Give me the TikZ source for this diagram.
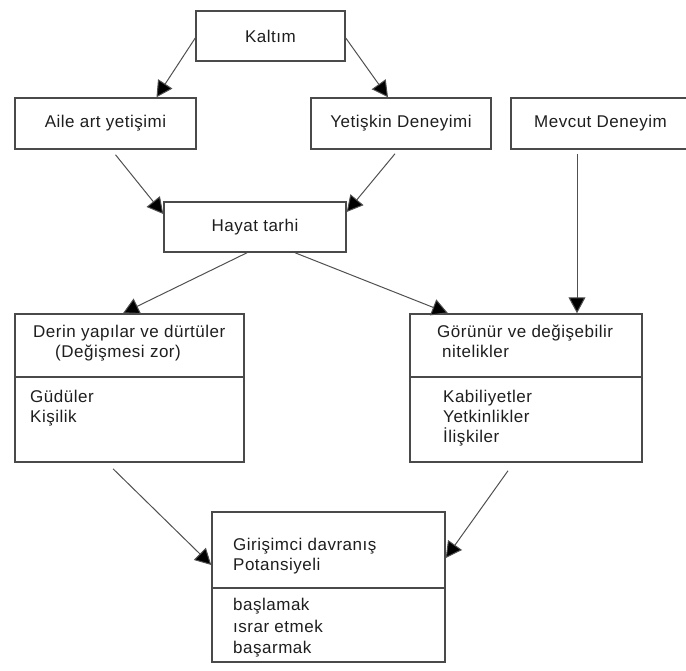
\documentclass[tikz,border=0pt]{standalone}
\usepackage{fontspec}
\setmainfont{Liberation Sans}[LetterSpace=3]
\usetikzlibrary{arrows.meta}

\definecolor{framegray}{HTML}{4A4A4A}
\definecolor{linkgray}{HTML}{505050}
\definecolor{inkgray}{HTML}{1E1E1E}

\tikzset{
  box/.style={draw=framegray, line width=1.5pt, inner sep=0pt, text=inkgray,
              font=\fontsize{17}{21}\selectfont},
  label/.style={anchor=base west, inner sep=0pt, text=inkgray,
                font=\fontsize{17}{21}\selectfont},
  divider/.style={draw=framegray, line width=1.5pt},
  link/.style={draw=linkgray, line width=1pt,
               -{Triangle[length=16pt,width=17pt,fill=black]}}
}

\begin{document}
\begin{tikzpicture}[x=1pt,y=-1pt]
  \useasboundingbox (0,0) rectangle (686,670);

  % single-line boxes
  \node[box, minimum width=149pt, minimum height=50pt] (kaltim)   at (270.5,36)  {Kaltım};
  \node[box, minimum width=181pt, minimum height=51pt] (aile)     at (105.5,123.5) {Aile art yetişimi};
  \node[box, minimum width=180pt, minimum height=51pt] (yetiskin) at (401,123.5) {Yetişkin Deneyimi};
  \node[box, minimum width=179pt, minimum height=51pt] (mevcut)   at (600.5,123.5) {Mevcut Deneyim};
  \node[box, minimum width=182pt, minimum height=50pt] (hayat)    at (255,227)   {Hayat tarhi};

  % two-part boxes
  \node[box, minimum width=229pt, minimum height=148pt] (derin)     at (129.5,388) {};
  \node[box, minimum width=232pt, minimum height=148pt] (gorunur)   at (526,388)   {};
  \node[box, minimum width=233pt, minimum height=150pt] (girisimci) at (328.5,587) {};

  \draw[divider] (derin.west |- 0,377) -- (derin.east |- 0,377);
  \draw[divider] (gorunur.west |- 0,377) -- (gorunur.east |- 0,377);
  \draw[divider] (girisimci.west |- 0,588) -- (girisimci.east |- 0,588);

  % texts of the two-part boxes
  \node[label] (derinA) at (33,337) {Derin yapılar ve dürtüler};
  \node[label] (derinB) at (55,357) {(Değişmesi zor)};
  \node[label] (derinC) at (30,402) {Güdüler};
  \node[label] (derinD) at (30,422) {Kişilik};

  \node[label] (gorA) at (437,337) {Görünür ve değişebilir};
  \node[label] (gorB) at (442,357) {nitelikler};
  \node[label] (gorC) at (443,402) {Kabiliyetler};
  \node[label] (gorD) at (443,422) {Yetkinlikler};
  \node[label] (gorE) at (443,442) {İlişkiler};

  \node[label] (girA) at (233,550) {Girişimci davranış};
  \node[label] (girB) at (233,570) {Potansiyeli};
  \node[label] (girC) at (233,610) {başlamak};
  \node[label] (girD) at (233,632) {ısrar etmek};
  \node[label] (girE) at (233,653) {başarmak};

  % connectors
  \draw[link] ([yshift=-2pt]kaltim.west) -- ([xshift=51pt]aile.north);
  \draw[link] ([yshift=-2pt]kaltim.east) -- ([xshift=-13pt]yetiskin.north);
  \draw[link] ([xshift=10pt,yshift=-5pt]aile.south) -- ([yshift=13pt]hayat.west);
  \draw[link] ([xshift=-6pt,yshift=-4pt]yetiskin.south) -- ([yshift=15pt]hayat.east);
  \draw[link] ([xshift=-23.5pt,yshift=-4pt]mevcut.south)
              -- ([xshift=-23.5pt]mevcut.south |- gorunur.north);
  \draw[link] ([xshift=-8pt]hayat.south) -- ([xshift=-6.5pt]derin.north);
  \draw[link] ([xshift=40pt]hayat.south) -- ([xshift=-78pt]gorunur.north);
  \draw[link] ([xshift=-16.5pt,yshift=-6pt]derin.south) -- ([yshift=22pt]girisimci.west);
  \draw[link] ([xshift=-18pt,yshift=-8pt]gorunur.south) -- ([yshift=29pt]girisimci.east);
\end{tikzpicture}
\end{document}
